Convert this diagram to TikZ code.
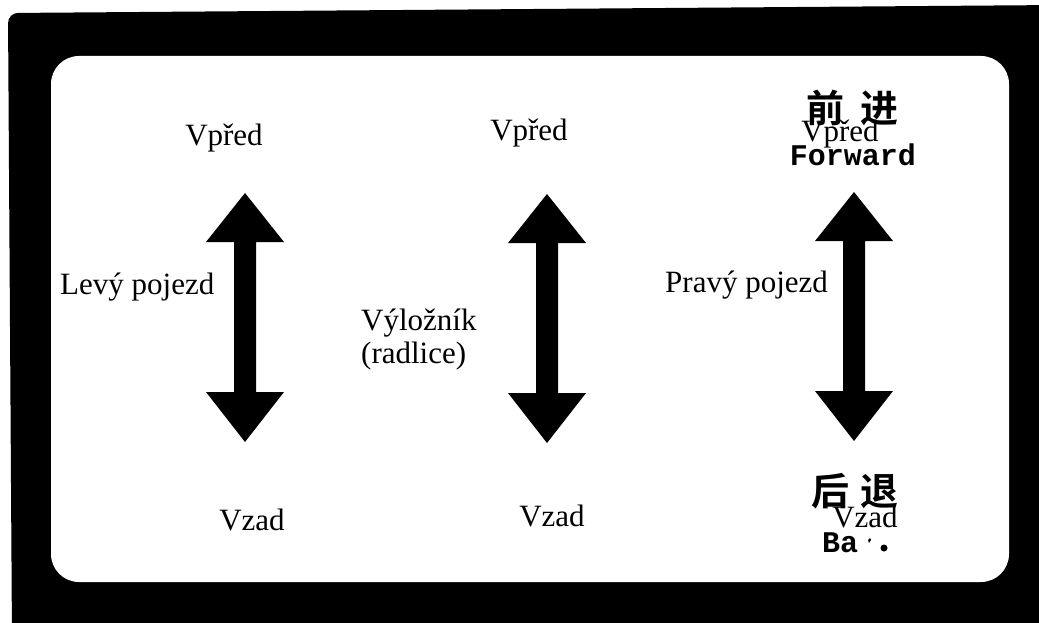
\documentclass[tikz,border=0pt]{standalone}
\usepackage{fontspec}
\setmainfont{Liberation Serif}
\newfontfamily\cjk[BoldFont={Noto Sans CJK SC Bold}]{Noto Sans CJK SC}
\newfontfamily\monob{Liberation Mono}
\begin{document}
\begin{tikzpicture}[x=1pt,y=-1pt,
  lbl/.style={inner sep=0pt,font=\fontsize{31}{36}\selectfont},
  cjklbl/.style={inner sep=0pt,font=\fontsize{38}{40}\selectfont\cjk\bfseries},
  enlbl/.style={inner sep=0pt,font=\fontsize{30}{32}\selectfont\monob\bfseries},
  dblarrow/.pic={\fill[black] (0,0) -- (39,49) -- (11,49) -- (11,199) -- (39,199) -- (0,249)
        -- (-39,199) -- (-11,199) -- (-11,49) -- (-39,49) -- cycle;}]
\useasboundingbox (0,0) rectangle (1039,623);
\fill[white] (0,0) rectangle (1039,623);
% black frame
\fill[black, rounded corners=10pt] (8,13) -- (1060,5) -- (1060,640) -- (12,640) -- cycle;
% inner panel
\fill[white, rounded corners=28pt] (51,56) rectangle (1009,582);
% arrows
\pic at (245,193) {dblarrow};
\pic at (547,194) {dblarrow};
\pic at (854,192) {dblarrow};
% left column
\node[lbl,anchor=base] (lf) at (224,146) {Vpřed};
\node[lbl,anchor=base west] (lname) at (60,294) {Levý pojezd};
\node[lbl,anchor=base] (lb) at (252,530) {Vzad};
% middle column
\node[lbl,anchor=base] (mf) at (529,141) {Vpřed};
\node[lbl,anchor=base west] (mname1) at (361,330) {Výložník};
\node[lbl,anchor=base west] (mname2) at (361,363) {(radlice)};
\node[lbl,anchor=base] (mb) at (552,526) {Vzad};
% right column: original Chinese/English labels
\node[cjklbl,anchor=center] (cf) at (852,108) {前\kern16pt进};
\node[enlbl,anchor=base] (ef) at (853,165) {Forward};
\node[cjklbl,anchor=center] (cb) at (855,491) {后\kern12pt退};
\node[enlbl,anchor=base west] (eb) at (822,552) {Ba};
\fill[black] (868,540) -- (870,538) -- (871,540) -- (869,543) -- cycle;
\fill[black] (884,548) circle (3.5pt);
% right column: Czech labels
\node[lbl,anchor=base] (rf) at (840,142) {Vpřed};
\node[lbl,anchor=base west] (rname) at (665,292) {Pravý pojezd};
\node[lbl,anchor=base] (rb) at (865,527) {Vzad};
\end{tikzpicture}
\end{document}
